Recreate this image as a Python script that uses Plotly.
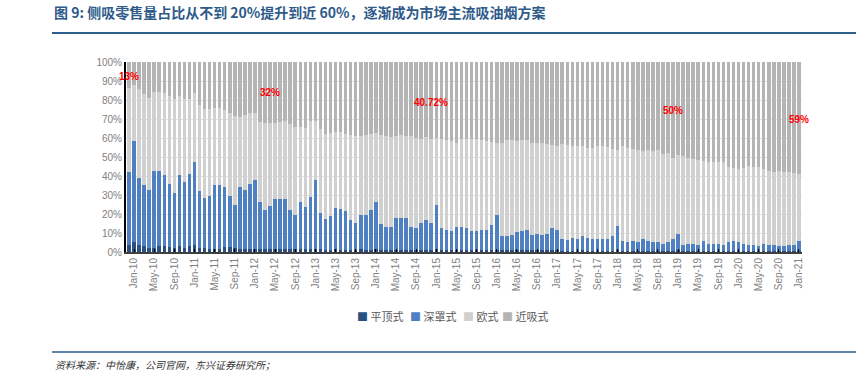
import pandas as pd
import plotly.graph_objects as go

# Monthly categories Dec-09 .. Jan-21
months = [d.strftime("%b-%y") for d in pd.date_range("2009-12-01", "2021-01-01", freq="MS")]
tick_labels = months[1::4]

# 平顶式 (%)
pingding = [
    3.5, 5.3, 3.5, 3.0, 2.1, 2.1, 3.0, 3.4, 2.6, 2.1, 3.0, 2.1, 3.0, 3.9,
    2.1, 2.1, 1.8, 1.8, 1.8, 2.6, 2.6, 2.1, 1.8, 1.8, 1.6, 1.8, 1.6, 1.6, 1.6, 1.6, 1.6, 1.6, 1.4, 1.4, 1.4, 1.4,
    1.6, 1.8, 1.4, 1.2, 1.2, 1.4, 1.2, 1.2, 1.2, 1.2, 1.4, 1.2, 1.2, 1.4, 1.2, 1.2, 1.0, 1.2, 1.2, 1.2,
    1.0, 1.0, 1.2, 1.2, 1.0, 1.4, 1.0, 1.0, 1.0, 1.0, 1.0, 1.0, 1.0, 1.0, 1.0, 0.9, 1.0, 1.2,
    0.8, 0.8, 0.8, 0.9, 0.8, 0.8, 0.8, 0.8, 0.8, 0.8,
    1.0, 0.8, 0.7, 0.7, 0.7, 0.7, 0.8, 0.7, 0.7, 0.7,
    0.7, 0.7, 0.7, 0.9, 0.6, 0.6, 0.6, 0.6, 0.6, 0.6,
    0.6, 0.6, 0.6, 0.6, 0.6, 0.8, 0.5, 0.5, 0.5, 0.5,
    0.5, 0.5, 0.5, 0.5, 0.5, 0.5, 0.6, 0.5, 0.5, 0.5,
    0.5, 0.5, 0.5, 0.5, 0.5, 0.5, 0.5, 0.5, 0.5, 0.6,
]
# 深罩式 (%)
shenzhao = [
    38.8, 52.9, 35.5, 32.3, 30.7, 40.4, 39.5, 37.2, 33.4, 28.9, 37.6, 34.6, 38.0, 43.5,
    29.9, 26.5, 27.5, 33.5, 33.5, 31.6, 27.0, 22.9, 32.4, 31.0, 34.4, 36.1, 24.7, 20.4, 22.4, 26.4, 26.4, 26.4, 20.6, 18.0, 24.9, 22.4,
    27.3, 35.9, 19.2, 16.1, 17.7, 21.7, 21.2, 20.5, 15.6, 14.3, 18.0, 18.2, 20.7, 24.9, 13.5, 12.2, 12.4, 16.8, 16.8, 16.8,
    12.4, 11.7, 14.2, 15.4, 14.3, 23.1, 11.7, 10.5, 9.9, 12.3, 12.3, 11.6, 9.9, 9.9, 10.6, 10.7, 13.0, 18.2,
    7.5, 7.5, 8.3, 9.4, 10.1, 10.8, 8.2, 8.8, 8.2, 8.8,
    11.8, 10.8, 6.3, 5.6, 6.9, 6.3, 7.5, 6.9, 6.3, 6.3,
    6.3, 6.3, 7.6, 12.6, 5.0, 4.5, 5.2, 4.5, 6.4, 5.2,
    4.5, 4.5, 3.8, 4.5, 6.4, 8.9, 3.4, 3.9, 3.9, 3.4,
    5.3, 3.9, 3.9, 3.9, 3.4, 4.6, 5.2, 4.6, 3.9, 3.4,
    3.4, 2.7, 3.9, 3.4, 3.4, 2.7, 2.7, 3.4, 3.4, 5.2,
]
# 欧式 (%)
oushi = [
    44.1, 29.8, 47.0, 47.7, 48.2, 41.5, 41.5, 43.0, 46.0, 49.6, 41.4, 43.7, 39.6, 36.2,
    45.4, 46.7, 46.0, 40.7, 40.4, 40.8, 43.8, 46.8, 36.8, 39.2, 37.0, 35.1, 42.3, 46.0, 44.0, 40.0, 40.6, 41.0, 45.4, 46.4, 39.5, 41.5,
    40.1, 31.3, 44.1, 44.7, 43.7, 39.9, 40.6, 40.3, 44.7, 45.3, 41.4, 42.1, 40.1, 36.3, 46.8, 47.4, 46.9, 42.8, 43.5, 43.0,
    47.4, 47.1, 44.0, 43.7, 44.1, 35.3, 46.7, 47.5, 47.6, 44.0, 46.1, 46.8, 48.5, 48.5, 47.4, 46.9, 44.0, 37.9,
    49.0, 50.6, 49.8, 48.2, 48.1, 47.4, 48.3, 47.7, 48.3, 47.2,
    43.6, 44.4, 49.8, 50.1, 48.3, 48.6, 47.6, 47.3, 47.9, 48.6,
    48.6, 48.4, 45.8, 40.3, 50.0, 49.8, 48.3, 48.7, 46.4, 48.0,
    48.0, 48.7, 47.1, 46.9, 42.7, 41.1, 46.4, 45.2, 44.5, 44.6,
    42.0, 43.2, 42.9, 42.9, 43.4, 39.9, 38.6, 38.5, 40.0, 41.4,
    41.1, 41.8, 39.2, 38.8, 38.3, 39.5, 39.0, 38.3, 37.9, 35.1,
]
# 近吸式 (%)
jinxi = [
    13.6, 12.0, 14.0, 17.0, 19.0, 16.0, 16.0, 16.4, 18.0, 19.4, 18.0, 19.6, 19.4, 16.4,
    22.6, 24.7, 24.7, 24.0, 24.3, 25.0, 26.6, 28.2, 29.0, 28.0, 27.0, 27.0, 31.4, 32.0, 32.0, 32.0, 31.4, 31.0, 32.6, 34.2, 34.2, 34.7,
    31.0, 31.0, 35.3, 38.0, 37.4, 37.0, 37.0, 38.0, 38.5, 39.2, 39.2, 38.5, 38.0, 37.4, 38.5, 39.2, 39.7, 39.2, 38.5, 39.0,
    39.2, 40.2, 40.6, 39.7, 40.6, 40.2, 40.6, 41.0, 41.5, 42.7, 40.6, 40.6, 40.6, 40.6, 41.0, 41.5, 42.0, 42.7,
    42.7, 41.1, 41.1, 41.5, 41.0, 41.0, 42.7, 42.7, 42.7, 43.2,
    43.6, 44.0, 43.2, 43.6, 44.1, 44.4, 44.1, 45.1, 45.1, 44.4,
    44.4, 44.6, 45.9, 46.2, 44.4, 45.1, 45.9, 46.2, 46.6, 46.2,
    46.9, 46.2, 48.5, 48.0, 50.3, 49.2, 49.7, 50.4, 51.1, 51.5,
    52.2, 52.4, 52.7, 52.7, 52.7, 55.0, 55.6, 56.4, 55.6, 54.7,
    55.0, 55.0, 56.4, 57.3, 57.8, 57.3, 57.8, 57.8, 58.2, 59.1,
]

series_names = ["平顶式", "深罩式", "欧式", "近吸式"]
series_colors = ["#2B4F80", "#4F81C2", "#D0D0D0", "#B4B4B4"]
series_values = [pingding, shenzhao, oushi, jinxi]

# Red callouts: (text, category, y %)
callout_text = ["13%", "32%", "40.72%", "50%", "59%"]
callout_month = ["Dec-09", "Apr-12", "Dec-14", "Dec-18", "Jan-21"]
callout_y = [92.5, 83.8, 78.5, 74.4, 70.0]

fig = go.Figure()
for name, color, vals in zip(series_names, series_colors, series_values):
    fig.add_trace(go.Bar(x=months, y=vals, name=name, showlegend=False,
                         marker=dict(color=color, line=dict(width=0))))

# page body margin is removed via post_script, so figure coords = page coords
W, H = 868, 373
PL, PT = 126, 62
PR, PB = W - 802, H - 252
pw, ph = W - PL - PR, H - PT - PB


def px(xp):
    return (xp - PL) / pw


def py(yp):
    return (H - PB - yp) / ph


CJK = "Noto Sans CJK SC"
annos = []
for t, m, yv in zip(callout_text, callout_month, callout_y):
    annos.append(dict(x=m, y=yv, xref="x", yref="y", text="<b>" + t + "</b>", showarrow=False,
                      font=dict(family="Liberation Sans, Arial", size=10, color="#FF0000")))
annos.append(dict(x=px(52), y=py(12), xref="paper", yref="paper", xanchor="left", yanchor="middle",
                  text="<b>图 9: 侧吸零售量占比从不到 20%提升到近 60%，逐渐成为市场主流吸油烟方案</b>",
                  showarrow=False, font=dict(family=CJK, size=14, color="#2E5A8A")))
annos.append(dict(x=px(53), y=py(364), xref="paper", yref="paper", xanchor="left", yanchor="middle",
                  text="<i>资料来源：中怡康，公司官网，东兴证券研究所；</i>",
                  showarrow=False, font=dict(family=CJK, size=10, color="#333333")))

# Manual legend
legend_x = [355, 408, 461, 500]
for name, color, lx in zip(series_names, series_colors, legend_x):
    annos.append(dict(x=px(lx), y=py(316), xref="paper", yref="paper", xanchor="left", yanchor="middle",
                      text="<span style='color:%s'>■</span> %s" % (color, name), showarrow=False,
                      font=dict(family=CJK, size=11, color="#595959")))

shapes = [
    dict(type="line", xref="paper", yref="paper", x0=px(52), x1=px(856), y0=py(33), y1=py(33),
         line=dict(color="#2E5E8E", width=2)),
    dict(type="line", xref="paper", yref="paper", x0=px(52), x1=px(856), y0=py(352), y1=py(352),
         line=dict(color="#2E5E8E", width=1.5)),
]

fig.update_layout(
    width=W, height=H,
    margin=dict(l=PL, r=PR, t=PT, b=PB, pad=0),
    barmode="stack", bargap=0.3,
    plot_bgcolor="white", paper_bgcolor="white",
    showlegend=False,
    annotations=annos,
    shapes=shapes,
    xaxis=dict(type="category", categoryorder="array", categoryarray=months,
               tickmode="array", tickvals=tick_labels, ticktext=tick_labels,
               tickangle=-90, tickfont=dict(family="Liberation Sans, Arial", size=10, color="#7F7F7F"),
               showline=True, linecolor="#404040", linewidth=2, ticks="inside", ticklen=3,
               tickcolor="#000000", showgrid=False, range=[-0.6, len(months) - 0.4]),
    yaxis=dict(range=[0, 100], dtick=10, ticksuffix="%",
               tickfont=dict(family="Liberation Sans, Arial", size=10, color="#7F7F7F"),
               showline=True, linecolor="#000000", linewidth=2, gridcolor="#E3E3E3", gridwidth=1,
               zeroline=False, ticks=""),
    font=dict(family=CJK),
)

fig.write_html("out.html", config={"displayModeBar": False},
               post_script="document.body.style.margin='0';")
